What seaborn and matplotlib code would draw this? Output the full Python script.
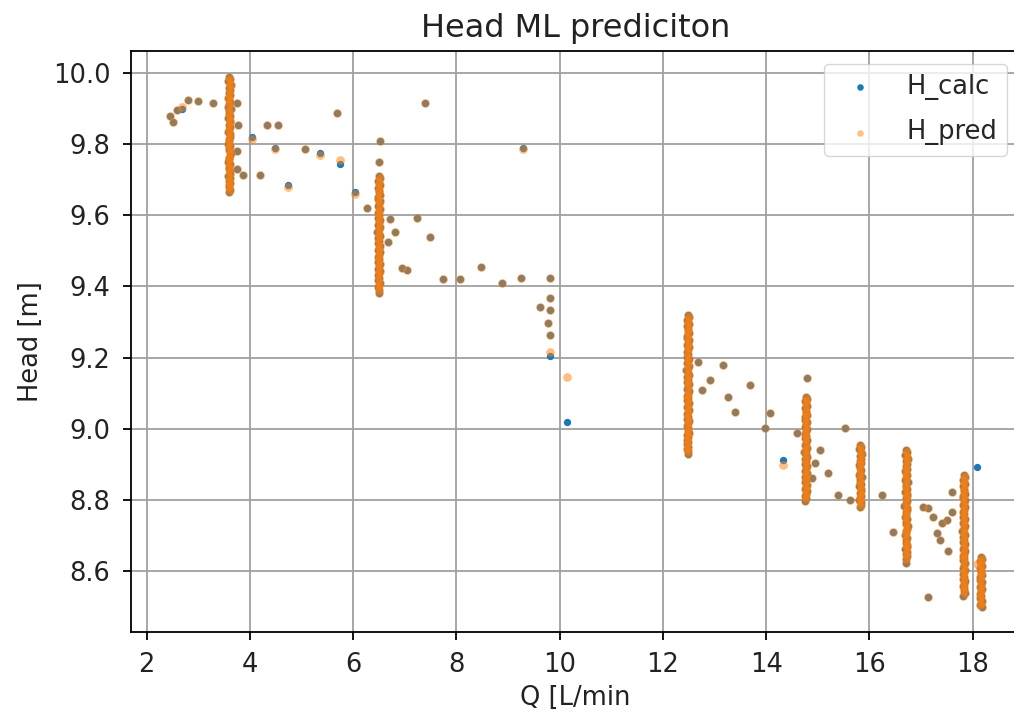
import pandas as pd
import matplotlib
matplotlib.use("Agg")
import matplotlib.pyplot as plt
import seaborn as sns

# ---- isolated operating points: flow, calculated head, predicted head ----
q_pts = [2.45, 2.50, 2.58, 2.68, 2.79, 2.99, 3.28, 3.74, 3.76, 3.74, 3.74, 3.86,
         4.03, 4.19, 4.33, 4.54, 4.48, 4.73, 5.06, 5.35, 5.68, 5.74, 6.03, 6.52,
         6.50, 7.39, 9.29, 6.26, 6.71, 6.81, 6.67, 7.23, 7.48, 6.94, 7.04, 7.74,
         8.07, 8.47, 8.88, 9.25, 9.81, 9.81, 9.62, 9.81, 9.77, 9.81, 9.81, 10.14,
         12.68, 13.16, 12.91, 12.76, 13.69, 13.26, 13.40, 14.07, 13.98, 14.33,
         14.60, 15.04, 14.95, 15.20, 14.89, 15.53, 15.39, 15.62, 16.24, 16.46,
         17.04, 17.13, 17.23, 17.41, 17.50, 17.60, 17.31, 17.37, 17.52, 17.60,
         17.13, 18.09, 14.79]
h_calc_pts = [9.880, 9.862, 9.896, 9.900, 9.925, 9.922, 9.915, 9.915, 9.855, 9.780,
              9.730, 9.713, 9.820, 9.713, 9.855, 9.855, 9.790, 9.685, 9.785, 9.775,
              9.888, 9.745, 9.665, 9.810, 9.750, 9.915, 9.790, 9.620, 9.590, 9.553,
              9.525, 9.593, 9.540, 9.452, 9.447, 9.420, 9.420, 9.455, 9.410, 9.424,
              9.424, 9.368, 9.343, 9.334, 9.298, 9.264, 9.205, 9.020, 9.188, 9.180,
              9.138, 9.110, 9.124, 9.090, 9.048, 9.045, 9.003, 8.913, 8.989, 8.940,
              8.904, 8.876, 8.862, 9.003, 8.815, 8.800, 8.815, 8.711, 8.781, 8.778,
              8.753, 8.736, 8.744, 8.767, 8.708, 8.688, 8.655, 8.823, 8.528, 8.893,
              9.143]
h_pred_pts = [9.880, 9.862, 9.896, 9.905, 9.925, 9.922, 9.915, 9.915, 9.855, 9.780,
              9.730, 9.713, 9.815, 9.713, 9.855, 9.855, 9.785, 9.680, 9.785, 9.770,
              9.888, 9.755, 9.660, 9.810, 9.750, 9.915, 9.785, 9.620, 9.590, 9.553,
              9.525, 9.593, 9.540, 9.452, 9.447, 9.420, 9.420, 9.455, 9.410, 9.424,
              9.424, 9.368, 9.343, 9.334, 9.298, 9.264, 9.215, 9.146, 9.188, 9.180,
              9.138, 9.110, 9.124, 9.090, 9.048, 9.045, 9.003, 8.898, 8.989, 8.940,
              8.904, 8.876, 8.862, 9.003, 8.815, 8.800, 8.815, 8.711, 8.781, 8.778,
              8.753, 8.736, 8.744, 8.767, 8.708, 8.688, 8.655, 8.823, 8.528, 8.620,
              9.143]

# ---- dense runs at fixed pump speeds (calculated and predicted coincide) ----
q_run_a = [3.60, 3.62, 3.58, 3.61, 3.63, 3.59, 3.61, 3.60, 3.62, 3.58,
           3.59, 3.62, 3.60, 3.58, 3.63, 3.60, 3.59, 3.61, 3.58, 3.62,
           3.61, 3.59, 3.62, 3.60, 3.57, 3.61, 3.62, 3.59, 3.60, 3.58,
           3.62, 3.60, 3.59, 3.63, 3.61, 3.59, 3.60, 3.58, 3.62, 3.60,
           3.59, 3.62, 3.61, 3.58, 3.61, 3.59, 3.62, 3.60, 3.59, 3.61, 3.60]
h_run_a = [9.990, 9.983, 9.978, 9.970, 9.965, 9.957, 9.952, 9.944, 9.939, 9.931,
           9.926, 9.918, 9.913, 9.905, 9.899, 9.893, 9.886, 9.879, 9.874, 9.866,
           9.861, 9.853, 9.848, 9.840, 9.834, 9.828, 9.821, 9.815, 9.809, 9.801,
           9.796, 9.788, 9.783, 9.775, 9.770, 9.762, 9.757, 9.749, 9.744, 9.736,
           9.730, 9.724, 9.717, 9.711, 9.705, 9.697, 9.692, 9.684, 9.679, 9.671, 9.665]

q_run_b = [6.49, 6.51, 6.47, 6.50, 6.52, 6.48, 6.50, 6.49, 6.51, 6.47,
           6.48, 6.51, 6.49, 6.47, 6.52, 6.49, 6.48, 6.50, 6.47, 6.51,
           6.50, 6.48, 6.51, 6.49, 6.46, 6.50, 6.51, 6.48, 6.49, 6.47,
           6.51, 6.49, 6.48, 6.52, 6.50, 6.48, 6.49, 6.47, 6.51, 6.49,
           6.48, 6.51, 6.50, 6.47, 6.50, 6.48, 6.51, 6.49, 6.48, 6.50, 6.49]
h_run_b = [9.710, 9.704, 9.697, 9.691, 9.684, 9.678, 9.671, 9.665, 9.658, 9.652,
           9.645, 9.639, 9.632, 9.626, 9.619, 9.613, 9.606, 9.600, 9.593, 9.587,
           9.580, 9.574, 9.567, 9.561, 9.554, 9.548, 9.541, 9.535, 9.528, 9.522,
           9.515, 9.509, 9.502, 9.496, 9.489, 9.483, 9.476, 9.470, 9.463, 9.457,
           9.450, 9.444, 9.437, 9.431, 9.424, 9.418, 9.411, 9.405, 9.398, 9.390, 9.382]

q_run_c = [12.48, 12.50, 12.46, 12.49, 12.51, 12.47, 12.49, 12.48, 12.50, 12.46,
           12.47, 12.50, 12.48, 12.46, 12.51, 12.48, 12.47, 12.49, 12.46, 12.50,
           12.49, 12.47, 12.50, 12.48, 12.45, 12.49, 12.50, 12.47, 12.48, 12.46,
           12.50, 12.48, 12.47, 12.51, 12.49, 12.47, 12.48, 12.46, 12.50, 12.48,
           12.47, 12.50, 12.49, 12.46, 12.49, 12.47, 12.50, 12.48, 12.47, 12.49,
           12.48, 12.50, 12.47, 12.49, 12.46, 12.49, 12.47, 12.48, 12.46, 12.49, 12.48]
h_run_c = [9.320, 9.314, 9.307, 9.301, 9.294, 9.288, 9.281, 9.275, 9.268, 9.262,
           9.255, 9.249, 9.242, 9.236, 9.229, 9.223, 9.216, 9.210, 9.203, 9.197,
           9.190, 9.184, 9.177, 9.171, 9.164, 9.158, 9.151, 9.145, 9.138, 9.132,
           9.125, 9.119, 9.112, 9.106, 9.099, 9.093, 9.086, 9.080, 9.073, 9.067,
           9.060, 9.054, 9.047, 9.041, 9.034, 9.028, 9.021, 9.015, 9.008, 9.002,
           8.995, 8.989, 8.982, 8.976, 8.969, 8.963, 8.956, 8.950, 8.943, 8.937, 8.930]

q_run_d = [14.77, 14.79, 14.75, 14.78, 14.80, 14.76, 14.78, 14.77, 14.79, 14.75,
           14.76, 14.79, 14.77, 14.75, 14.80, 14.77, 14.76, 14.78, 14.75, 14.79,
           14.78, 14.76, 14.79, 14.77, 14.74, 14.78, 14.79, 14.76, 14.77, 14.75,
           14.79, 14.77, 14.76, 14.80, 14.78, 14.76, 14.77, 14.75, 14.79, 14.77,
           14.76, 14.79, 14.78, 14.75, 14.78, 14.76]
h_run_d = [9.090, 9.084, 9.077, 9.071, 9.064, 9.058, 9.051, 9.045, 9.038, 9.032,
           9.025, 9.019, 9.012, 9.006, 8.999, 8.993, 8.986, 8.980, 8.973, 8.967,
           8.960, 8.954, 8.947, 8.941, 8.934, 8.928, 8.921, 8.915, 8.908, 8.902,
           8.895, 8.889, 8.882, 8.876, 8.869, 8.863, 8.856, 8.850, 8.843, 8.837,
           8.830, 8.824, 8.817, 8.811, 8.804, 8.798]

q_run_e = [15.82, 15.84, 15.80, 15.83, 15.85, 15.81, 15.83, 15.82, 15.84, 15.80,
           15.81, 15.84, 15.82, 15.80, 15.85, 15.82, 15.81, 15.83, 15.80, 15.84,
           15.83, 15.81, 15.84, 15.82, 15.79, 15.83, 15.84, 15.81]
h_run_e = [8.955, 8.949, 8.942, 8.936, 8.929, 8.923, 8.916, 8.910, 8.903, 8.897,
           8.890, 8.884, 8.877, 8.871, 8.864, 8.858, 8.851, 8.845, 8.838, 8.832,
           8.825, 8.819, 8.812, 8.806, 8.799, 8.793, 8.786, 8.780]

q_run_f = [16.71, 16.73, 16.69, 16.72, 16.74, 16.70, 16.72, 16.71, 16.73, 16.69,
           16.70, 16.73, 16.71, 16.69, 16.74, 16.71, 16.70, 16.72, 16.69, 16.73,
           16.72, 16.70, 16.73, 16.71, 16.68, 16.72, 16.73, 16.70, 16.71, 16.69,
           16.73, 16.71, 16.70, 16.74, 16.72, 16.70, 16.71, 16.69, 16.73, 16.71,
           16.70, 16.73, 16.72, 16.69, 16.72, 16.70, 16.73, 16.71, 16.70]
h_run_f = [8.940, 8.934, 8.927, 8.921, 8.914, 8.908, 8.901, 8.895, 8.888, 8.882,
           8.875, 8.869, 8.862, 8.856, 8.849, 8.843, 8.836, 8.830, 8.823, 8.817,
           8.810, 8.804, 8.797, 8.791, 8.784, 8.778, 8.771, 8.765, 8.758, 8.752,
           8.745, 8.739, 8.732, 8.726, 8.719, 8.713, 8.706, 8.700, 8.693, 8.687,
           8.680, 8.674, 8.667, 8.661, 8.654, 8.648, 8.641, 8.635, 8.624]

q_run_g = [17.83, 17.85, 17.81, 17.84, 17.86, 17.82, 17.84, 17.83, 17.85, 17.81,
           17.82, 17.85, 17.83, 17.81, 17.86, 17.83, 17.82, 17.84, 17.81, 17.85,
           17.84, 17.82, 17.85, 17.83, 17.80, 17.84, 17.85, 17.82, 17.83, 17.81,
           17.85, 17.83, 17.82, 17.86, 17.84, 17.82, 17.83, 17.81, 17.85, 17.83,
           17.82, 17.85, 17.84, 17.81, 17.84, 17.82, 17.85, 17.83, 17.82, 17.84,
           17.83, 17.85, 17.82]
h_run_g = [8.870, 8.864, 8.857, 8.851, 8.844, 8.838, 8.831, 8.825, 8.818, 8.812,
           8.805, 8.799, 8.792, 8.786, 8.779, 8.773, 8.766, 8.760, 8.753, 8.747,
           8.740, 8.734, 8.727, 8.721, 8.714, 8.708, 8.701, 8.695, 8.688, 8.682,
           8.675, 8.669, 8.662, 8.656, 8.649, 8.643, 8.636, 8.630, 8.623, 8.617,
           8.610, 8.604, 8.597, 8.591, 8.584, 8.578, 8.571, 8.565, 8.558, 8.552,
           8.545, 8.538, 8.530]

q_run_h = [18.16, 18.18, 18.14, 18.17, 18.19, 18.15, 18.17, 18.16, 18.18, 18.14,
           18.15, 18.18, 18.16, 18.14, 18.19, 18.16, 18.15, 18.17, 18.14, 18.18,
           18.17, 18.15, 18.18]
h_run_h = [8.640, 8.634, 8.627, 8.621, 8.614, 8.608, 8.601, 8.595, 8.588, 8.582,
           8.575, 8.569, 8.562, 8.556, 8.549, 8.543, 8.536, 8.530, 8.523, 8.517,
           8.510, 8.505, 8.500]

x_ticks = [2, 4, 6, 8, 10, 12, 14, 16, 18]
y_ticks = [8.6, 8.8, 9.0, 9.2, 9.4, 9.6, 9.8, 10.0]

# ---- assemble ----
q_runs = q_run_a + q_run_b + q_run_c + q_run_d + q_run_e + q_run_f + q_run_g + q_run_h
h_runs = h_run_a + h_run_b + h_run_c + h_run_d + h_run_e + h_run_f + h_run_g + h_run_h

df = pd.DataFrame({
    "Q": q_pts + q_runs,
    "H_calc": h_calc_pts + h_runs,
    "H_pred": h_pred_pts + h_runs,
})

sns.set_theme(style="ticks")
plt.rcParams["font.family"] = ["DejaVu Sans"]

fig = plt.figure(figsize=(10.14, 7.23), dpi=100)
ax = fig.add_axes([0.129, 0.126, 0.877, 0.8036])

# calculated head: solid dots; predicted head: slightly larger translucent dots on top
sns.scatterplot(data=df, x="Q", y="H_calc", ax=ax, color="#1f77b4", s=28,
                linewidth=0, label="H_calc", zorder=3)
sns.scatterplot(data=df, x="Q", y="H_pred", ax=ax, color="#ff7f0e", s=40,
                linewidth=0, alpha=0.5, label="H_pred", zorder=4)

ax.set_xlim(1.69, 18.92)
ax.set_ylim(8.429, 10.062)
ax.set_xticks(x_ticks)
ax.set_yticks(y_ticks)
ax.set_yticklabels([f"{v:.1f}" for v in y_ticks])

ax.grid(True, color="#a0a0a0", linewidth=1.3)
ax.set_axisbelow(True)
for side in ["top", "right", "left", "bottom"]:
    ax.spines[side].set_visible(True)
    ax.spines[side].set_color("black")
    ax.spines[side].set_linewidth(1.3)
ax.tick_params(axis="both", labelsize=18.5, length=5.8, width=1.3, pad=9,
               color="black", labelcolor="#222222")

ax.set_title("Head ML prediciton", fontsize=23, pad=10, color="#222222")
ax.set_xlabel("Q [L/min", fontsize=18.5, color="#222222", labelpad=5)
ax.set_ylabel("Head [m]", fontsize=18.5, color="#222222", labelpad=6)

leg = ax.legend(loc="upper right", fontsize=18.5, frameon=True, framealpha=0.8,
                edgecolor="#cccccc", fancybox=True, labelspacing=0.75)
for handle in leg.legend_handles:
    handle.set_sizes([22])

fig.savefig("out.png", dpi=100)
